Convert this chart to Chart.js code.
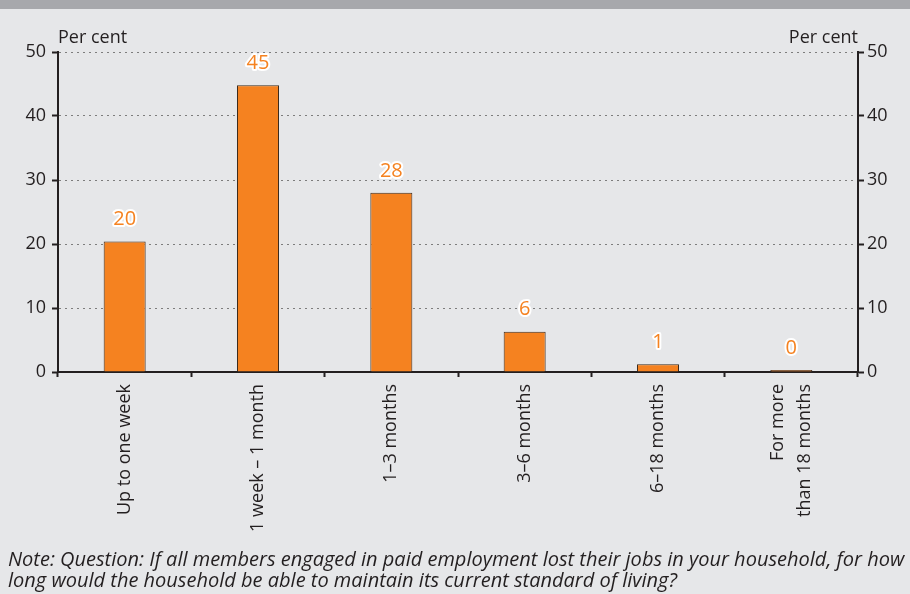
<!DOCTYPE html>
<html>
<head>
<meta charset="utf-8">
<script src="https://cdn.jsdelivr.net/npm/chart.js@4.4.0/dist/chart.umd.min.js"></script>
<style>
  html, body { margin: 0; padding: 0; background: #e6e7e9; }
  #wrap { width: 910px; height: 594px; position: relative; }
</style>
</head>
<body>
<div id="wrap"><canvas id="survival_chart" width="910" height="594"></canvas></div>
<script>

// How long households could keep their living standard - survey shares

var periods = ['Up to one week', '1 week \u2013 1 month', '1\u20133 months', '3\u20136 months',
               '6\u201318 months', ['For more', 'than 18 months']];
var shares = [20.4, 44.8, 28.0, 6.3, 1.2, 0.3];
var yTicks = [0, 10, 20, 30, 40, 50];
var unitLabel = 'Per cent';
var noteLines = ['Note: Question: If all members engaged in paid employment lost their jobs in your household, for how',
                 'long would the household be able to maintain its current standard of living?'];

var FONT = "'Open Sans', sans-serif";
var INK = '#231f20';
var ORANGE = '#f58220';
var X_FONT = 18, X_LINE = 1.45;

Chart.defaults.font.family = FONT;
Chart.defaults.color = INK;


// grey band, "Per cent" captions, note text
var decorations = {
    id: 'decorations',
    beforeDraw: function(chart) {
        var c = chart.ctx;
        c.save();
        c.fillStyle = '#e6e7e9';
        c.fillRect(0, 0, chart.width, chart.height);
        c.fillStyle = '#a7a8ac';
        c.fillRect(0, 0, chart.width, 9);
        c.restore();

        // rotated multi-line labels: centre the block of lines on the tick
        var items = chart.scales.x.getLabelItems();
        items.forEach(function(item) {
            var n = Array.isArray(item.label) ? item.label.length : 1;
            if (n > 1 && !item._centred) {
                item.options.translation[0] -= (n - 1) * X_FONT * X_LINE / 2;
                item._centred = true;
            }
        });
    },
    afterDraw: function(chart) {
        var c = chart.ctx;
        var area = chart.chartArea;
        c.save();
        c.fillStyle = INK;
        c.font = '18px ' + FONT;
        c.textBaseline = 'alphabetic';
        c.textAlign = 'left';
        c.fillText(unitLabel, area.left, 43);
        c.textAlign = 'right';
        c.fillText(unitLabel, area.right, 43);

        c.font = 'italic 20px ' + FONT;
        c.textAlign = 'left';
        c.fillText(noteLines[0], 8, 566);
        c.fillText(noteLines[1], 8, 587);
        c.restore();
    }
};

// value labels above bars, orange with a white halo
var valueLabels = {
    id: 'valueLabels',
    afterDatasetsDraw: function(chart) {
        var c = chart.ctx;
        var meta = chart.getDatasetMeta(0);
        c.save();
        c.font = '20px ' + FONT;
        c.textAlign = 'center';
        c.textBaseline = 'middle';
        c.lineJoin = 'round';
        meta.data.forEach(function(bar, i) {
            var txt = String(Math.round(shares[i]));
            var y = bar.y - 22;
            c.strokeStyle = '#ffffff';
            c.lineWidth = 4;
            c.strokeText(txt, bar.x, y);
            c.fillStyle = ORANGE;
            c.fillText(txt, bar.x, y);
        });
        c.restore();
    }
};

var yScale = function(pos) {
    return {
        position: pos,
        min: 0,
        max: 50,
        afterBuildTicks: function(s) { s.ticks = yTicks.map(function(v) { return {value: v}; }); },
        afterFit: function(s) { s.width = pos === 'left' ? 58 : 52; },
        ticks: {
            padding: pos === 'left' ? 6 : 3,
            font: {size: 18},
            color: INK,
        },
        border: {display: true, color: INK, width: 2, dash: [2, 4]},
        grid: {
            drawOnChartArea: pos === 'left',
            color: '#7d7d7d',
            lineWidth: 1,
            tickLength: 6,
            tickColor: INK,
            tickWidth: 2,
            tickBorderDash: [],
        },
    };
};

var ctx = document.getElementById('survival_chart').getContext('2d');

var survival_chart = new Chart(ctx, {
    type: 'bar',
    data: {
        labels: periods,
        datasets: [{
            data: shares,
            backgroundColor: ORANGE,
            borderColor: '#3d2b1c',
            borderWidth: 1,
            categoryPercentage: 1,
            barPercentage: 0.315,
        }],
    },
    options: {
        responsive: false,
        animation: false,
        layout: {padding: {top: 52, left: 0, right: 0, bottom: 0}},
        plugins: {
            legend: {display: false},
            tooltip: {enabled: false},
        },
        scales: {
            x: {
                offset: true,
                afterFit: function(s) { s.height = 222; },
                ticks: {
                    minRotation: 90,
                    maxRotation: 90,
                    padding: 7,
                    font: {size: X_FONT, lineHeight: X_LINE},
                    color: INK,
                },
                border: {display: true, color: INK, width: 2},
                grid: {
                    offset: true,
                    drawOnChartArea: false,
                    tickLength: 5,
                    tickColor: INK,
                    tickWidth: 2,
                },
            },
            y: yScale('left'),
            y2: yScale('right'),
        },
    },
    plugins: [decorations, valueLabels],
});

</script>
</body>
</html>
